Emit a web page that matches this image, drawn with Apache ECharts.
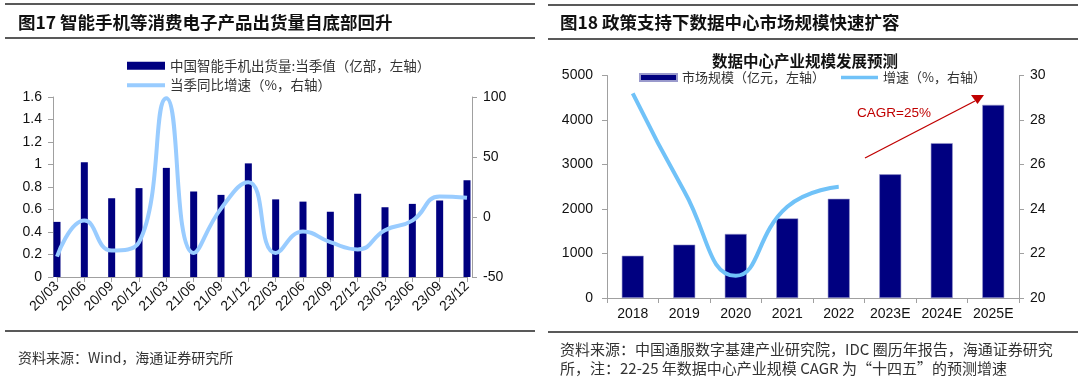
<!DOCTYPE html>
<html><head><meta charset="utf-8">
<script src="https://cdn.jsdelivr.net/npm/echarts@6/dist/echarts.min.js"></script>
<style>html,body{margin:0;padding:0;background:#fff}#c{width:1080px;height:381px}</style>
</head><body><div id="c"></div>
<script>
// ---- data: left chart ----
const quarters = ['20/03','20/06','20/09','20/12','21/03','21/06','21/09','21/12','22/03','22/06','22/09','22/12','23/03','23/06','23/09','23/12'];
const shipments = [0.49,1.02,0.70,0.79,0.97,0.76,0.73,1.01,0.69,0.67,0.58,0.74,0.62,0.65,0.68,0.86];
const shipmentsYoY = [-33,-3,-28,-21,99,-30,7,29,-30,-12,-21,-27,-11,-3,17,16];
const leftTicks = {min:0,max:1.6,interval:0.2};
const rightTicks = {min:-50,max:100,interval:50};
// ---- data: right chart ----
const years = ['2018','2019','2020','2021','2022','2023E','2024E','2025E'];
const marketSize = [950,1200,1440,1790,2230,2780,3480,4340];
const growthRate = [29.2,24.8,21.0,24.1,25.0,null,null,null];
const sizeTicks = {min:0,max:5000,interval:1000};
const growthTicks = {min:20,max:30,interval:2};

const NAVY = '#000080';
const LB1 = '#99CCFF';
const LB2 = '#70C2F8';
const AX = '#A0A0A0';
const NUMF = '"Liberation Sans", Arial, sans-serif';
const CJK = '"Noto Sans CJK SC", sans-serif';
const LINE_ICON = 'path://M0,0L40,0L40,4L0,4Z';

const chart = echarts.init(document.getElementById('c'), null, {renderer:'canvas'});

function yAx(gi, pos, t, off, margin){
  return {type:'value', gridIndex:gi, position:pos, min:t.min, max:t.max, interval:t.interval, offset:off,
    axisLine:{show:true, lineStyle:{color:AX,width:1}},
    axisTick:{show:true, inside:false, length:5, lineStyle:{color:AX}},
    splitLine:{show:false},
    axisLabel:{color:'#111', fontSize:14, fontFamily:NUMF, margin:margin, formatter:v=>String(v)}};
}

const line = (x1,y1,x2,y2,w,c)=>({type:'line', silent:true, shape:{x1,y1,x2,y2}, style:{stroke:c||'#222', lineWidth:w||1.5}});
const txt = (x,y,t,o)=>Object.assign({type:'text', silent:true, x, y, style:Object.assign({text:t, fill:'#222', font:'14px '+CJK, textVerticalAlign:'middle'}, o||{})});

const option = {
  animation:false,
  backgroundColor:'#fff',
  grid:[
    {left:57, right:1080-467, top:97, bottom:381-277, containLabel:false},
    {left:607, right:1080-1019, top:75.5, bottom:381-298, containLabel:false}
  ],
  xAxis:[
    {type:'category', gridIndex:0, data:quarters, boundaryGap:false,
     axisLine:{lineStyle:{color:AX}}, axisTick:{show:true, length:5, alignWithLabel:true, lineStyle:{color:AX}},
     axisLabel:{rotate:45, fontSize:14, color:'#111', fontFamily:NUMF, margin:7, interval:0}},
    {type:'category', gridIndex:1, data:years, boundaryGap:true,
     axisLine:{lineStyle:{color:AX}}, axisTick:{show:true, length:5, lineStyle:{color:AX}},
     axisLabel:{fontSize:14, color:'#111', fontFamily:NUMF, margin:9, interval:0}}
  ],
  yAxis:[
    yAx(0,'left',leftTicks,4,11),
    yAx(0,'right',rightTicks,5,11),
    yAx(1,'left',sizeTicks,0,14),
    yAx(1,'right',growthTicks,0,11)
  ],
  legend:[
    {orient:'vertical', left:122, top:54, itemWidth:38, itemHeight:8, itemGap:6,
     textStyle:{fontFamily:CJK, fontSize:13.5, color:'#333'},
     data:[{name:'中国智能手机出货量:当季值（亿部，左轴）', icon:'rect'}, {name:'当季同比增速（%，右轴）', icon:LINE_ICON}]},
    {orient:'horizontal', left:634, top:66, itemWidth:37, itemHeight:7, itemGap:16,
     textStyle:{fontFamily:CJK, fontSize:13, color:'#333'},
     data:[{name:'市场规模（亿元，左轴）', icon:'rect'}, {name:'增速（%，右轴）', icon:LINE_ICON}]}
  ],
  series:[
    {name:'中国智能手机出货量:当季值（亿部，左轴）', type:'bar', xAxisIndex:0, yAxisIndex:0, data:shipments, barWidth:7, itemStyle:{color:NAVY}, clip:false},
    {name:'当季同比增速（%，右轴）', type:'line', xAxisIndex:0, yAxisIndex:1, data:shipmentsYoY, smooth:0.5, symbol:'none', lineStyle:{color:LB1, width:4}, itemStyle:{color:LB1}, clip:false},
    {name:'市场规模（亿元，左轴）', type:'bar', xAxisIndex:1, yAxisIndex:2, data:marketSize, barWidth:22, itemStyle:{color:NAVY, borderColor:'#9a9acc', borderWidth:0.6}},
    {name:'增速（%，右轴）', type:'line', xAxisIndex:1, yAxisIndex:3, data:growthRate, smooth:0.5, symbol:'none', lineStyle:{color:LB2, width:4}, itemStyle:{color:LB2}, connectNulls:false}
  ],
  graphic:[
    line(5,4,535,4), line(5,38,535,38), line(5,331,535,331),
    line(548,5,1078,5), line(548,39,1078,39), line(548,332,1078,332),
    txt(18,22,'图17 智能手机等消费电子产品出货量自底部回升',{font:'bold 17.5px '+CJK, fill:'#111'}),
    txt(560,22,'图18 政策支持下数据中心市场规模快速扩容',{font:'bold 17.5px '+CJK, fill:'#111'}),
    txt(805,61,'数据中心产业规模发展预测',{font:'bold 15.5px '+CJK, fill:'#111', textAlign:'center'}),
    txt(18,358,'资料来源：Wind，海通证券研究所',{font:'14px '+CJK, fill:'#333'}),
    txt(560,349,'资料来源：中国通服数字基建产业研究院，IDC 圈历年报告，海通证券研究',{font:'15px '+CJK, fill:'#333'}),
    txt(560,368,'所，注：22-25 年数据中心产业规模 CAGR 为“十四五”的预测增速',{font:'15px '+CJK, fill:'#333'}),
    txt(857,113,'CAGR=25%',{font:'13.5px '+NUMF, fill:'#C00000'}),
    line(865,158,975,101,1.3,'#C00000'),
    {type:'polygon', silent:true, shape:{points:[[971,95],[984,95],[977.5,104]]}, style:{fill:'#C00000'}}
  ]
};
chart.setOption(option);
</script></body></html>
